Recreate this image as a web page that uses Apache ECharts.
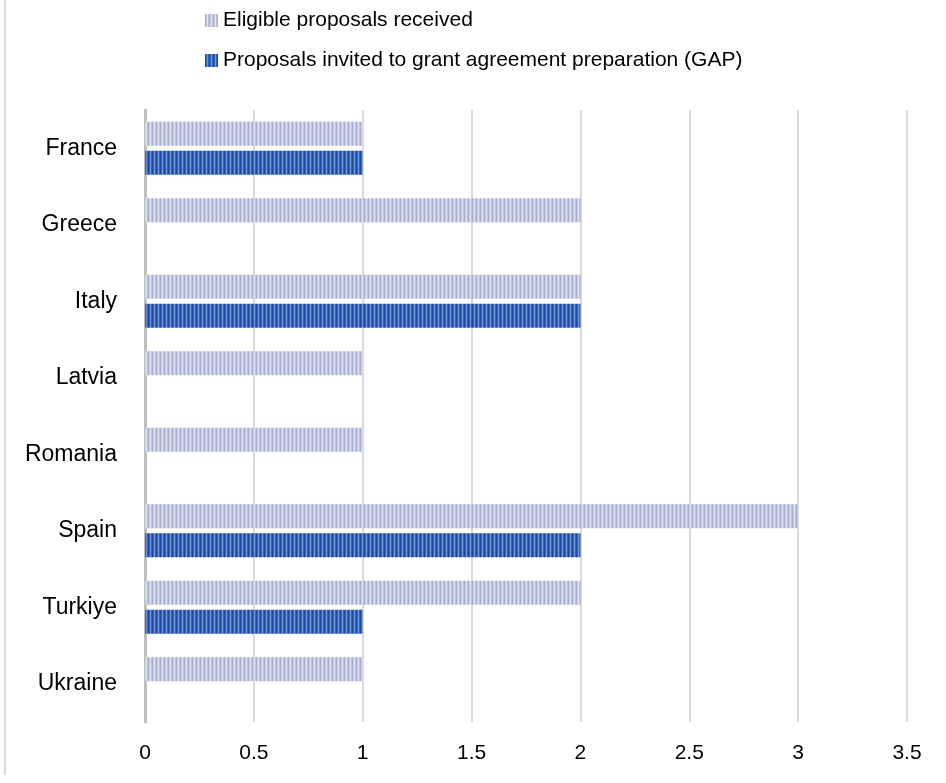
<!DOCTYPE html>
<html><head><meta charset="utf-8">
<script src="https://cdn.jsdelivr.net/npm/echarts@6/dist/echarts.min.js"></script>
<style>html,body{margin:0;padding:0;background:#fff}#c{width:946px;height:783px}</style>
</head><body><div id="c"></div>
<script>
const categories = ['France','Greece','Italy','Latvia','Romania','Spain','Turkiye','Ukraine'];
const eligible = [1,2,2,1,1,3,2,1];
const invited = [1,0,2,0,0,2,1,0];
const xTicks = [0,0.5,1,1.5,2,2.5,3,3.5];
const seriesNames = ['Eligible proposals received','Proposals invited to grant agreement preparation (GAP)'];

function stripes(cols){
  const c=document.createElement('canvas');c.width=cols.length;c.height=4;
  const g=c.getContext('2d');
  cols.forEach((col,i)=>{g.fillStyle=col;g.fillRect(i,0,1,4);});
  return {image:c,repeat:'repeat'};
}
const grayPat = stripes(['#a7aed0','#c8cce3','#e0e3f0','#bcc1dc']);
const bluePat = stripes(['#1c48a3','#3563bb','#7096d6','#3360b8']);

const chart = echarts.init(document.getElementById('c'));
const font = 'Liberation Sans';
chart.setOption({
  animation:false,
  textStyle:{fontFamily:font},
  legend:{orient:'vertical',left:200,top:5,itemGap:19,itemWidth:13,itemHeight:13,icon:'rect',
    textStyle:{fontSize:21,color:'#000',fontFamily:font},data:seriesNames},
  grid:{left:145,right:39,top:110,bottom:61,containLabel:false},
  xAxis:{type:'value',min:0,max:3.5,interval:0.5,
    axisLine:{show:false},axisTick:{show:false},
    splitLine:{lineStyle:{color:'#d9d9d9',width:2}},
    axisLabel:{fontSize:21,color:'#000',margin:21,formatter:v=>xTicks.includes(v)?String(v):''}},
  yAxis:{type:'category',inverse:true,data:categories,
    axisLine:{lineStyle:{color:'#bfbfbf',width:3}},axisTick:{show:false},
    axisLabel:{fontSize:23,color:'#000',margin:28}},
  series:[
    {name:seriesNames[0],type:'bar',data:eligible,barWidth:24,barGap:'20%',itemStyle:{color:grayPat}},
    {name:seriesNames[1],type:'bar',data:invited,barWidth:24,barGap:'20%',itemStyle:{color:bluePat}}
  ],
  graphic:[{type:'line',shape:{x1:5,y1:0,x2:5,y2:775},style:{stroke:'#d9d9d9',lineWidth:2}}]
});
</script></body></html>
